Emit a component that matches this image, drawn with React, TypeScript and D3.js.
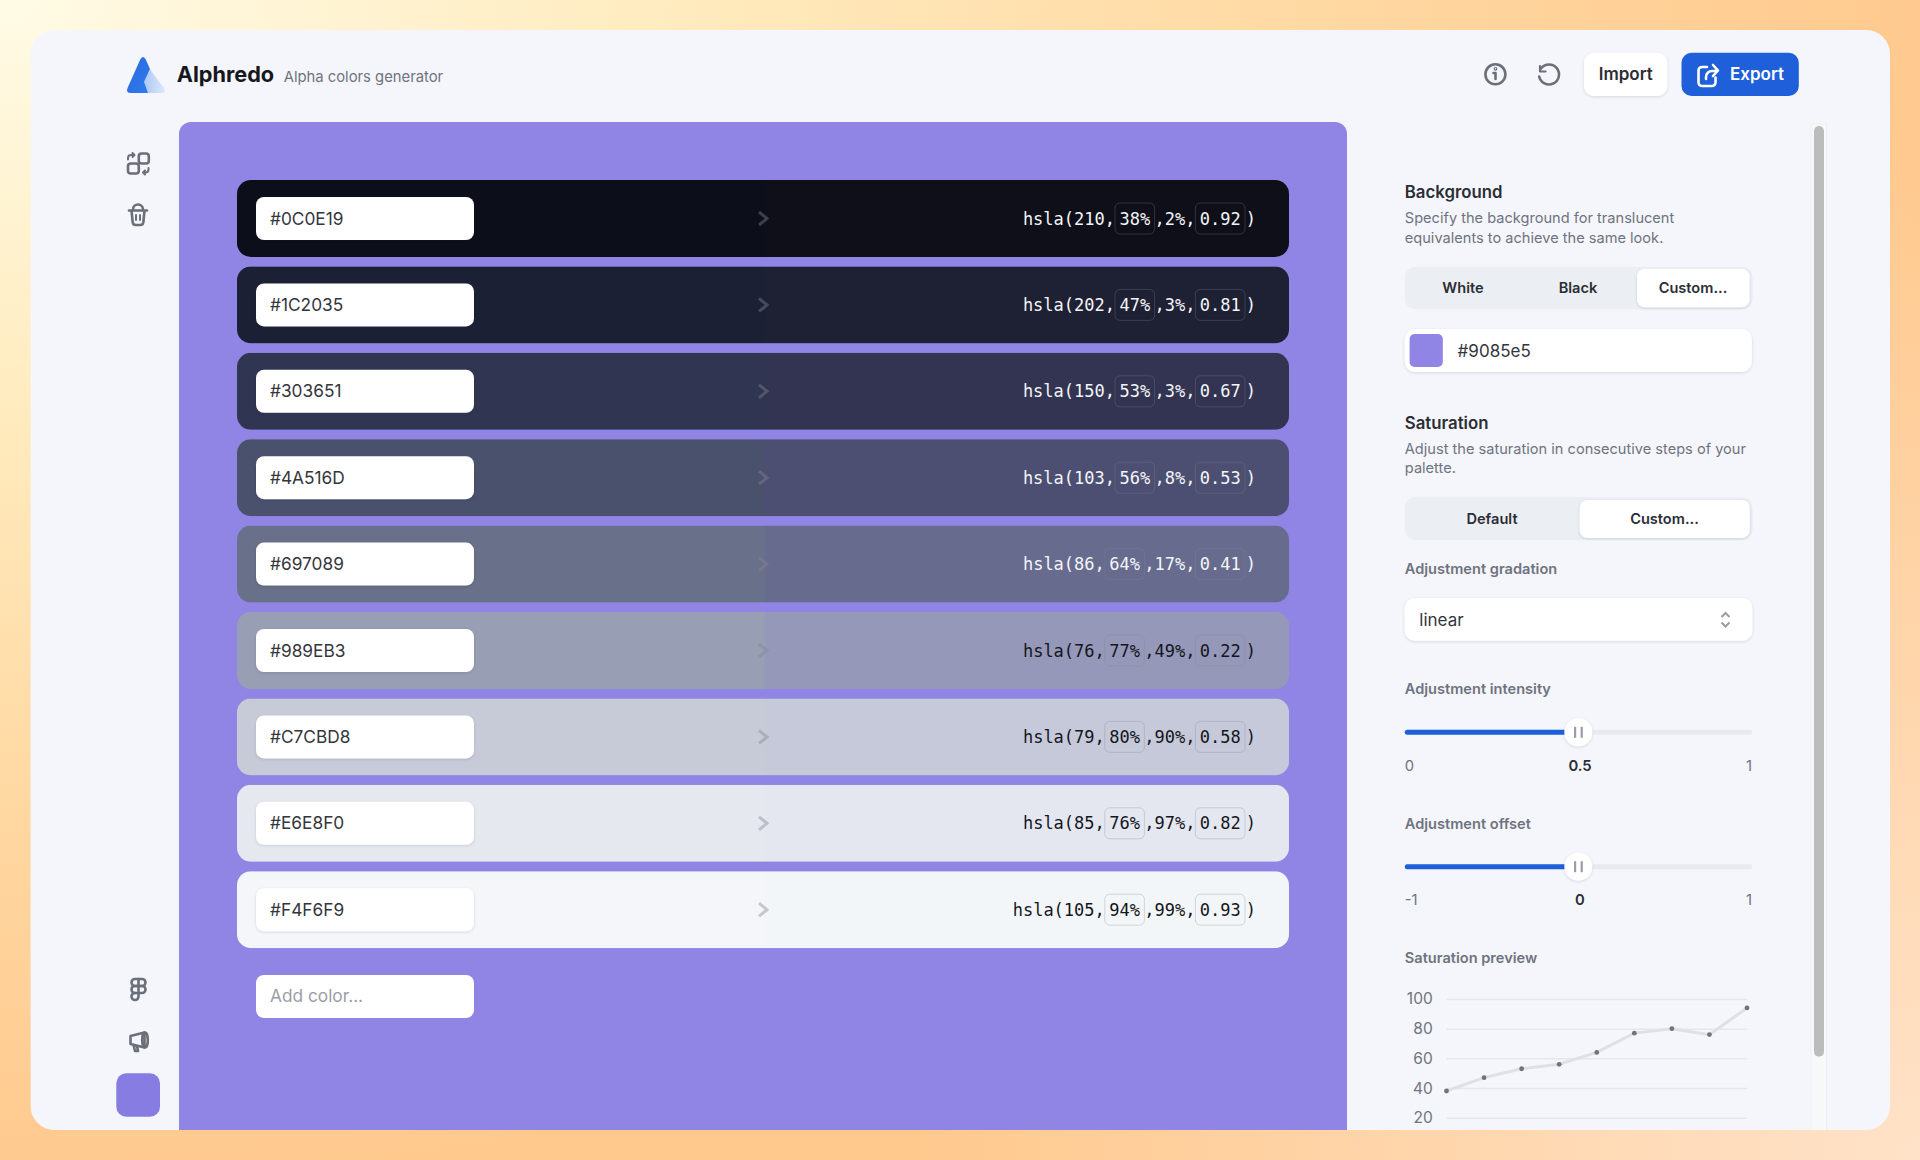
import { useEffect, useRef } from "react";
import * as d3 from "d3";

const hexes = ["#0C0E19", "#1C2035", "#303651", "#4A516D", "#697089", "#989EB3", "#C7CBD8", "#E6E8F0", "#F4F6F9"];
const hues = [210, 202, 150, 103, 86, 76, 79, 85, 105];
const saturations = [38, 47, 53, 56, 64, 77, 80, 76, 94];
const lightness = [2, 3, 3, 8, 17, 49, 90, 97, 99];
const alphas = ["0.92", "0.81", "0.67", "0.53", "0.41", "0.22", "0.58", "0.82", "0.93"];
const bgTabs = ["White", "Black", "Custom..."];
const satTabs = ["Default", "Custom..."];
const satTicks = [0, 20, 40, 60, 80, 100];

const BG = "#9085e5";
const sans = "Inter, sans-serif";
const mono = "'DejaVu Sans Mono', monospace";
const muted = "#6f7380";
const ink = "#2b2e35";
const charW = 10.2;

const rowY = d3.scaleLinear().domain([0, 1]).range([180, 266.4]);
const previewX = d3.scalePoint<number>().domain(d3.range(saturations.length)).range([1446.5, 1747]);
const previewY = d3.scaleLinear().domain([0, 100]).range([1147.4, 999]);

function Slider({ y, low, mid, high }: { y: number; low: string; mid: string; high: string }) {
  return (
    <g>
      <rect x={1404.8} y={y - 2.5} width={347.6} height={5} rx={2.5} fill="#e8eaef" />
      <rect x={1404.8} y={y - 2.5} width={162} height={5} rx={2.5} fill="#1f5fd9" />
      <circle cx={1578.3} cy={y} r={14} fill="#fff" filter="url(#soft)" />
      <rect x={1574} y={y - 5.5} width={2.2} height={11} fill="#9a9ca8" />
      <rect x={1580.6} y={y - 5.5} width={2.2} height={11} fill="#9a9ca8" />
      <text x={1404.8} y={y + 38.6} fontSize={14.8} fill={muted}>{low}</text>
      <text x={1580} y={y + 38.6} fontSize={14.8} fontWeight={600} fill={ink} textAnchor="middle">{mid}</text>
      <text x={1752} y={y + 38.6} fontSize={14.8} fill={muted} textAnchor="end">{high}</text>
    </g>
  );
}

function Row({ i }: { i: number }) {
  const top = rowY(i);
  const mid = top + 38.5;
  const sat = `${saturations[i]}%`;
  const rest = `,${lightness[i]}%,`;
  const head = `hsla(${hues[i]},`;
  const color = i < 5 ? "#f4f5f8" : "#14161d";
  const box2L = 1195.4;
  const box1R = box2L - rest.length * charW;
  const box1L = box1R - (sat.length * charW + 9);
  return (
    <g>
      <clipPath id={`row-${i}`}>
        <rect x={237} y={top} width={1052} height={77} rx={14} />
      </clipPath>
      <g clipPath={`url(#row-${i})`}>
        <rect x={237} y={top} width={528} height={77} fill={hexes[i]} />
        <rect x={765} y={top} width={524} height={77} fill={`hsla(${hues[i]},${saturations[i]}%,${lightness[i]}%,${alphas[i]})`} />
      </g>
      <rect x={256} y={top + 17} width={218} height={43} rx={8} fill="#fff" filter="url(#soft)" />
      <text x={270} y={mid + 6} fontSize={17.3} fill="#34363c">{hexes[i]}</text>
      <path d={`M759 ${mid - 6.5}L767 ${mid}L759 ${mid + 6.5}`} fill="none" stroke="rgba(130,134,148,0.42)" strokeWidth={3} />
      <g fontFamily={mono} fontSize={17} fill={color}>
        <rect x={box1L} y={mid - 15.5} width={box1R - box1L} height={31} rx={5} fill="none" stroke="rgba(130,135,150,0.3)" />
        <rect x={box2L} y={mid - 15.5} width={49.6} height={31} rx={5} fill="none" stroke="rgba(130,135,150,0.3)" />
        <text x={box1L} y={mid + 6} textAnchor="end">{head}</text>
        <text x={(box1L + box1R) / 2} y={mid + 6} textAnchor="middle">{sat}</text>
        <text x={box2L} y={mid + 6} textAnchor="end">{rest}</text>
        <text x={box2L + 24.8} y={mid + 6} textAnchor="middle">{alphas[i]}</text>
        <text x={1256} y={mid + 6} textAnchor="end">)</text>
      </g>
    </g>
  );
}

function Icons() {
  const st = { fill: "none", stroke: "#6b6f7a", strokeWidth: 2.6, strokeLinecap: "round", strokeLinejoin: "round" } as const;
  return (
    <g {...st}>
      {/* swap */}
      <rect x={138.8} y={153.5} width={10} height={10} rx={2.8} />
      <rect x={128} y={163.5} width={10.8} height={10} rx={2.8} />
      <path d="M134.500 155h-3.500a3 3 0 0 0-3 3v1.500M134.500 155l-2-2M134.500 155l-2 2" strokeWidth={2} />
      <path d="M143 172.500h2.500a3 3 0 0 0 3-3v-1.500M143 172.500l2-2M143 172.500l2 2" strokeWidth={2} />
      {/* trash */}
      <path d="M129 210.500h18M131.500 210.500l1.200 12a3 3 0 0 0 3 2.500h4.600a3 3 0 0 0 3-2.500l1.200-12M133 209.500a5 5 0 0 1 10 0" />
      <path d="M136 215v5M140 215v5" strokeWidth={2} />
      {/* figma */}
      <rect x={131.500} y={979} width={14} height={7} rx={3.500} />
      <rect x={131.500} y={986} width={14} height={7} rx={3.500} />
      <path d="M138.500 979v14M138.500 993v3.500a3.500 3.500 0 1 1-3.500-3.500" />
      {/* megaphone */}
      <path d="M130.500 1036l14-3.500v15l-14-3.500zM133.500 1045l1.500 6h3l-1-5" />
      <ellipse cx={145} cy={1040} rx={2.800} ry={7.500} />
      {/* info */}
      <circle cx={1495.4} cy={74.300} r={10} />
      <path d="M1495.500 73v6M1493.500 73h2" />
      <circle cx={1495.500} cy={68.800} r={0.6} />
      {/* reset */}
      <path d="M1541 68.500a10 10 0 1 1-1.800 8" />
      <path d="M1540 66v5.500h5.500" strokeWidth={2.200} />
      {/* export */}
      <path d="M1707 67h-5a3.500 3.500 0 0 0-3.500 3.500v12a3.500 3.500 0 0 0 3.500 3.500h10a3.500 3.500 0 0 0 3.500-3.500v-5" stroke="#fff" />
      <path d="M1706 79v-2a6 6 0 0 1 6-6h5M1713 65l5 5.500-5 5.500" stroke="#fff" />
    </g>
  );
}

function Preview() {
  const axisRef = useRef<SVGGElement | null>(null);

  useEffect(() => {
    const axis = d3.axisLeft(previewY).tickValues(satTicks).tickSize(-(1747.3 - 1446.7)).tickPadding(14);
    const g = d3.select(axisRef.current);
    g.call(axis as any);
    g.select(".domain").remove();
    g.selectAll(".tick line").attr("stroke", "#e4e7ed").attr("stroke-width", 1.5);
    g.selectAll(".tick text").attr("fill", muted).attr("font-size", 15.5).attr("font-family", sans);
  }, []);

  const line = d3
    .line<number>()
    .x((_, i) => previewX(i) as number)
    .y((d) => previewY(d));

  return (
    <g clipPath="url(#card-clip)">
      <g ref={axisRef} transform="translate(1446.7,0)" />
      <path d={line(saturations) as string} fill="none" stroke="#dfe0e5" strokeWidth={3} />
      {saturations.map((d, i) => (
        <circle key={i} cx={previewX(i)} cy={previewY(d)} r={2.4} fill="#6f7280" />
      ))}
    </g>
  );
}

export default function App() {
  return (
    <svg
      width={1920}
      height={1160}
      viewBox="0 0 1920 1160"
      fontFamily={sans}
      style={{ position: "absolute", left: 0, top: 0, display: "block" }}
    >
      <defs>
        <radialGradient id="warm" gradientUnits="userSpaceOnUse" cx={0} cy={0} r={1} gradientTransform="translate(0,0) scale(1950,1180)">
          <stop offset="0" stopColor="#fffbe6" />
          <stop offset="0.35" stopColor="#ffebbe" />
          <stop offset="0.7" stopColor="#ffd7a0" />
          <stop offset="1" stopColor="#ffc98e" />
        </radialGradient>
        <radialGradient id="peach" gradientUnits="userSpaceOnUse" cx={1920} cy={1160} r={1000}>
          <stop offset="0" stopColor="#ffe2c8" />
          <stop offset="1" stopColor="#ffe2c8" stopOpacity={0} />
        </radialGradient>
        <linearGradient id="logo-a" x1="0" y1="0" x2="1" y2="1">
          <stop offset="0" stopColor="#2b68dc" />
          <stop offset="1" stopColor="#2f7cf0" />
        </linearGradient>
        <linearGradient id="logo-b" x1="0" y1="0" x2="1" y2="0">
          <stop offset="0" stopColor="#a9c7f6" />
          <stop offset="1" stopColor="#dde8fb" />
        </linearGradient>
        <filter id="soft" x="-20%" y="-40%" width="140%" height="190%">
          <feDropShadow dx={0} dy={1} stdDeviation={1.6} floodColor="#1a2040" floodOpacity={0.14} />
        </filter>
        <clipPath id="card-clip">
          <rect x={30.6} y={30} width={1859.4} height={1100} rx={24} />
        </clipPath>
      </defs>

      <rect width={1920} height={1160} fill="url(#warm)" />
      <rect width={1920} height={1160} fill="url(#peach)" />
      <rect x={30.6} y={30} width={1859.4} height={1100} rx={24} fill="#f4f6fb" />

      {/* header */}
      <path d="M150 69Q156 78 164 88Q167 93 161 93H148L143 84Z" fill="url(#logo-b)" />
      <path d="M140 60Q143 54 146 60L150 69L144 82L148 93H131Q125 93 128 87Z" fill="url(#logo-a)" />
      <text x={176.7} y={81.7} fontSize={21.7} fontWeight={700} fill="#16181d">Alphredo</text>
      <text x={283.7} y={82} fontSize={14.8} fill={muted}>Alpha colors generator</text>

      <rect x={1584} y={52.7} width={83.4} height={43.3} rx={10} fill="#fff" filter="url(#soft)" />
      <text x={1625.700} y={80} fontSize={17} fontWeight={600} fill={ink} textAnchor="middle">Import</text>
      <rect x={1681.5} y={52.7} width={117.3} height={43.3} rx={10} fill="#1f5fd9" />
      <text x={1730} y={80} fontSize={17} fontWeight={600} fill="#fff">Export</text>

      <Icons />

      {/* palette panel */}
      <g clipPath="url(#card-clip)">
        <path d="M179 1140V134a12 12 0 0 1 12-12H1335a12 12 0 0 1 12 12V1140Z" fill={BG} />
      </g>
      {hexes.map((_, i) => (
        <Row key={i} i={i} />
      ))}
      <rect x={256} y={975} width={218} height={43} rx={8} fill="#fff" />
      <text x={270} y={1002} fontSize={17.3} fill="#9b9da6">Add color...</text>
      <rect x={116.300} y={1073.3} width={43.700} height={43.400} rx={10} fill="#877ce2" />

      {/* scrollbar */}
      <g clipPath="url(#card-clip)">
        <rect x={1811} y={124} width={15.500} height={1010} fill="#f7f8f8" stroke="#eceef2" />
      </g>
      <rect x={1814} y={126} width={10} height={930.700} rx={5} fill="#bcbcbc" />

      {/* background section */}
      <text x={1404.8} y={198} fontSize={16.8} fontWeight={600} fill={ink}>Background</text>
      <text x={1404.8} y={223.3} fontSize={14.6} fill={muted}>Specify the background for translucent</text>
      <text x={1404.8} y={242.7} fontSize={14.6} fill={muted}>equivalents to achieve the same look.</text>
      <rect x={1404.8} y={266.7} width={347.6} height={42.6} rx={10} fill="#ebeef3" />
      <rect x={1637} y={268.7} width={112.5} height={38.6} rx={8} fill="#fff" filter="url(#soft)" />
      {bgTabs.map((t, i) => (
        <text key={t} x={[1463, 1578, 1693][i]} y={293.3} fontSize={14.6} fontWeight={600} fill={ink} textAnchor="middle">{t}</text>
      ))}
      <rect x={1404.8} y={329} width={347} height={43} rx={10} fill="#fff" filter="url(#soft)" />
      <rect x={1409.6} y={334} width={33.2} height={33} rx={5} fill={BG} />
      <text x={1457.6} y={356.7} fontSize={17} fill="#34363c">{BG}</text>

      {/* saturation section */}
      <text x={1404.8} y={428.7} fontSize={16.8} fontWeight={600} fill={ink}>Saturation</text>
      <text x={1404.8} y={454.3} fontSize={14.6} fill={muted}>Adjust the saturation in consecutive steps of your</text>
      <text x={1404.8} y={473.3} fontSize={14.6} fill={muted}>palette.</text>
      <rect x={1404.8} y={497.3} width={347.6} height={42.7} rx={10} fill="#ebeef3" />
      <rect x={1579.7} y={500} width={170} height={38} rx={8} fill="#fff" filter="url(#soft)" />
      {satTabs.map((t, i) => (
        <text key={t} x={[1492, 1664.5][i]} y={524} fontSize={14.6} fontWeight={600} fill={ink} textAnchor="middle">{t}</text>
      ))}
      <text x={1404.8} y={574} fontSize={14.6} fontWeight={600} fill={muted}>Adjustment gradation</text>
      <rect x={1404.8} y={598} width={347.6} height={42.7} rx={10} fill="#fff" filter="url(#soft)" />
      <text x={1419.3} y={625.7} fontSize={17} fill="#34363c">linear</text>
      <path d="M1721.500 617l4-4 4 4M1721.500 622.500l4 4 4-4" fill="none" stroke="#9a9ca8" strokeWidth={2} />

      <text x={1404.8} y={694} fontSize={14.6} fontWeight={600} fill={muted}>Adjustment intensity</text>
      <Slider y={732.3} low="0" mid="0.5" high="1" />
      <text x={1404.8} y={829} fontSize={14.6} fontWeight={600} fill={muted}>Adjustment offset</text>
      <Slider y={866.7} low="-1" mid="0" high="1" />
      <text x={1404.8} y={963.3} fontSize={14.6} fontWeight={600} fill={muted}>Saturation preview</text>
      <Preview />
    </svg>
  );
}
